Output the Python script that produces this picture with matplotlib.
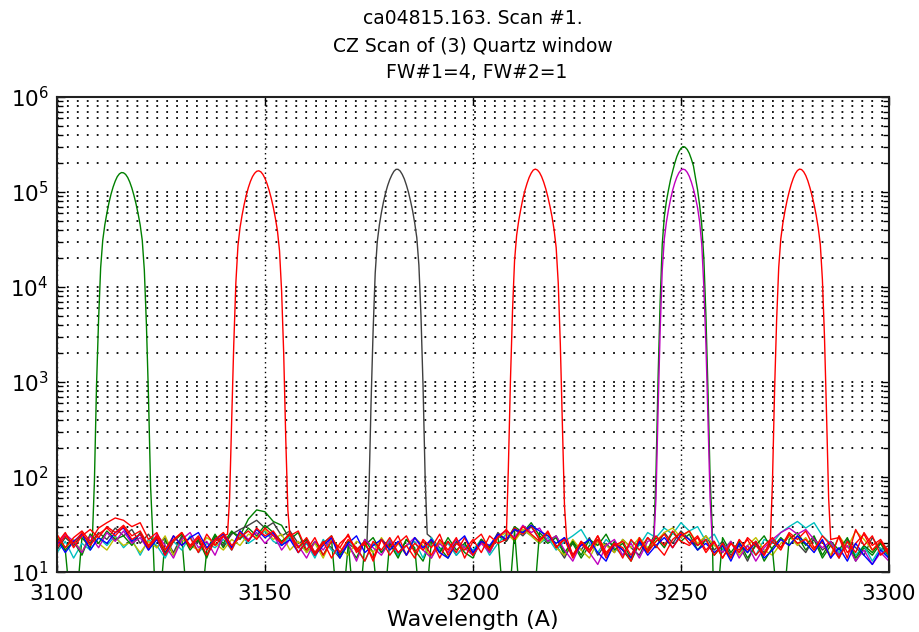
import numpy as np
import matplotlib
matplotlib.use("Agg")
import matplotlib.pyplot as plt

# colores estilo MATLAB antiguo
C_B = (0, 0, 1)
C_G = (0, 0.5, 0)
C_R = (1, 0, 0)
C_C = (0, 0.75, 0.75)
C_M = (0.75, 0, 0.75)
C_Y = (0.75, 0.75, 0)
C_K = (0.25, 0.25, 0.25)

# ---------------- ruido de fondo (x = 3100..3300 cada 2 A) ----------------
ruido_x = np.arange(3100, 3301, 2)

ruido_verde1 = [24, 17, 2, 23, 18, 24, 26, 28, 27, 25,
                24, 26, 2, 22, 15, 23, 2, 2, 17, 25,
                18, 26, 24, 36, 45, 43, 34, 31, 22, 26,
                16, 21, 15, 22, 2, 19, 14, 22, 16, 2,
                21, 15, 22, 17, 13, 22, 18, 14, 21, 16,
                14, 22, 16, 24, 21, 30, 26, 33, 24, 20,
                23, 15, 20, 14, 19, 22, 15, 21, 17, 13,
                20, 16, 23, 18, 26, 21, 25, 17, 22, 15,
                19, 14, 20, 16, 21, 13, 18, 23, 19, 24,
                17, 22, 14, 19, 15, 21, 13, 18, 15, 20,
                14]
ruido_rojo1 = [25, 18, 23, 27, 21, 29, 33, 37, 35, 30,
               33, 22, 26, 17, 24, 19, 23, 16, 25, 19,
               24, 20, 26, 22, 28, 25, 27, 24, 21, 27,
               17, 23, 15, 21, 18, 25, 16, 20, 14, 22,
               18, 24, 15, 20, 17, 22, 14, 21, 16, 23,
               15, 21, 17, 25, 22, 29, 25, 31, 22, 26,
               18, 23, 15, 20, 16, 22, 14, 19, 21, 15,
               22, 17, 24, 19, 27, 21, 19, 23, 16, 21,
               14, 20, 17, 22, 15, 19, 23, 18, 26, 22,
               27, 18, 21, 14, 24, 16, 20, 25, 17, 21,
               15]
ruido_gris = [17, 23, 19, 25, 20, 26, 22, 29, 24, 28,
              20, 25, 18, 23, 16, 24, 19, 21, 15, 23,
              19, 25, 28, 31, 35, 29, 33, 24, 27, 20,
              22, 15, 21, 18, 14, 20, 17, 21, 16, 19,
              20, 21, 19, 18, 20, 23, 16, 21, 15, 19,
              16, 22, 18, 26, 21, 28, 24, 30, 22, 25,
              19, 14, 21, 17, 23, 15, 20, 16, 22, 18,
              15, 23, 18, 26, 20, 27, 22, 19, 24, 17,
              21, 15, 19, 13, 20, 16, 22, 18, 24, 20,
              16, 23, 17, 20, 14, 22, 18, 15, 23, 17,
              19]
ruido_rojo2 = [20, 26, 18, 24, 28, 23, 30, 26, 31, 24,
               27, 19, 24, 17, 22, 26, 18, 23, 15, 21,
               24, 17, 26, 21, 29, 24, 27, 20, 25, 16,
               21, 15, 20, 24, 16, 22, 18, 13, 21, 17,
               23, 16, 19, 14, 22, 18, 25, 15, 20, 17,
               22, 16, 24, 20, 26, 28, 30, 28, 25, 24,
               22, 21, 15, 21, 17, 24, 16, 20, 14, 22,
               17, 23, 19, 15, 22, 26, 20, 24, 17, 21,
               14, 20, 16, 23, 19, 15, 21, 17, 25, 20,
               22, 17, 24, 19, 14, 21, 16, 26, 19, 22,
               16]
ruido_verde2 = [23, 17, 21, 15, 25, 20, 27, 22, 24, 19,
                26, 18, 23, 16, 21, 25, 17, 22, 14, 24,
                20, 27, 22, 29, 24, 31, 26, 21, 25, 18,
                22, 16, 20, 24, 15, 21, 2, 19, 23, 16,
                20, 14, 22, 18, 2, 21, 16, 23, 17, 20,
                15, 22, 18, 24, 2, 27, 2, 2, 26, 21,
                24, 16, 21, 15, 22, 19, 25, 17, 20, 14,
                21, 17, 24, 26, 28, 27, 25, 22, 20, 2,
                23, 16, 21, 14, 19, 24, 17, 2, 22, 26,
                19, 24, 15, 21, 17, 23, 14, 19, 16, 21,
                15]
ruido_magenta = [19, 25, 21, 16, 24, 18, 26, 21, 27, 20,
                 23, 17, 25, 19, 14, 22, 26, 18, 21, 15,
                 24, 18, 27, 22, 26, 20, 25, 17, 22, 19,
                 14, 21, 17, 23, 16, 20, 13, 22, 18, 15,
                 21, 16, 19, 23, 17, 14, 20, 16, 22, 18,
                 15, 20, 16, 24, 27, 23, 31, 26, 29, 21,
                 24, 17, 13, 20, 16, 12, 19, 22, 15, 20,
                 14, 21, 17, 23, 19, 25, 21, 24, 15, 20,
                 16, 21, 14, 19, 13, 18, 22, 26, 29, 25,
                 28, 22, 18, 21, 15, 19, 13, 17, 12, 16,
                 13]
ruido_rojo3 = [18, 24, 20, 26, 19, 25, 29, 24, 30, 22,
               25, 18, 23, 15, 21, 26, 19, 24, 17, 22,
               26, 19, 23, 27, 22, 29, 24, 20, 26, 18,
               23, 16, 21, 14, 20, 24, 17, 21, 13, 22,
               15, 20, 24, 16, 21, 15, 22, 17, 23, 14,
               21, 25, 17, 23, 28, 22, 30, 25, 21, 27,
               18, 22, 14, 21, 17, 24, 15, 20, 18, 13,
               23, 16, 21, 25, 18, 24, 27, 19, 22, 15,
               20, 14, 22, 17, 21, 15, 19, 23, 22, 23,
               22, 21, 20, 17, 23, 14, 28, 19, 24, 15,
               18]
ruido_azul = [22, 16, 21, 25, 17, 23, 20, 26, 29, 21,
              25, 17, 22, 15, 24, 19, 23, 26, 18, 22,
              25, 18, 27, 21, 28, 23, 26, 19, 22, 16,
              21, 15, 19, 23, 14, 20, 24, 16, 19, 22,
              17, 21, 15, 23, 18, 22, 16, 14, 20, 24,
              16, 21, 19, 25, 22, 28, 26, 31, 27, 24,
              20, 23, 15, 19, 22, 16, 13, 20, 17, 14,
              21, 15, 19, 23, 18, 25, 22, 17, 20, 16,
              19, 13, 20, 16, 21, 14, 17, 22, 19, 24,
              20, 16, 22, 14, 18, 13, 20, 15, 12, 17,
              14]
ruido_cian = [16, 21, 14, 20, 17, 23, 19, 24, 18, 22,
              15, 22, 19, 14, 21, 17, 24, 16, 20, 18,
              22, 17, 25, 20, 23, 27, 21, 19, 24, 16,
              20, 14, 22, 17, 15, 21, 18, 13, 20, 16,
              22, 15, 19, 21, 14, 23, 17, 20, 15, 19,
              17, 22, 15, 20, 25, 22, 28, 24, 20, 23,
              17, 21, 24, 28, 20, 16, 22, 18, 15, 21,
              19, 26, 23, 29, 25, 33, 27, 30, 21, 25,
              17, 21, 16, 19, 15, 22, 20, 26, 30, 34,
              29, 33, 24, 20, 16, 21, 15, 19, 13, 18,
              14]
ruido_amarillo = [24, 18, 22, 16, 25, 20, 17, 23, 19, 21,
                  16, 21, 18, 24, 15, 22, 19, 17, 23, 20,
                  17, 22, 19, 25, 23, 28, 22, 25, 17, 21,
                  16, 20, 14, 22, 18, 15, 21, 19, 16, 23,
                  17, 20, 15, 23, 19, 14, 21, 16, 22, 18,
                  15, 21, 17, 23, 26, 21, 28, 24, 20, 25,
                  18, 15, 22, 17, 14, 21, 19, 16, 22, 18,
                  23, 18, 21, 26, 29, 23, 27, 20, 24, 19,
                  16, 21, 15, 19, 23, 17, 15, 20, 24, 19,
                  23, 17, 21, 15, 24, 18, 27, 22, 17, 21,
                  16]

# ---------------- picos de los filtros (muestras cada 0.5 A) ----------------
pico1_x0 = 3108.5
pico1_y = [22, 90, 900, 4500, 16000, 31000, 45000, 60000, 77000, 95000,
           113000, 130000, 145000, 155000, 160000, 159000, 153000, 142000, 127000, 110000,
           92000, 75000, 59000, 45000, 31000, 15000, 4000, 700, 80, 26]
pico2_x0 = 3141.0
pico2_y = [25, 60, 400, 2500, 11000, 27000, 42000, 57000, 74000, 92000,
           111000, 129000, 145000, 157000, 165000, 167000, 163000, 153000, 139000, 122000,
           104000, 86000, 69000, 53000, 39000, 24000, 9000, 2000, 250, 45, 24]
pico3_x0 = 3174.5
pico3_y = [20, 70, 600, 3500, 14000, 30000, 45000, 61000, 79000, 98000,
           117000, 135000, 151000, 165000, 173000, 173000, 166000, 153000, 137000, 118000,
           99000, 80000, 63000, 47000, 33000, 17000, 5000, 900, 100, 25]
pico4_x0 = 3208.0
pico4_y = [22, 120, 1000, 5500, 19000, 35000, 50000, 66000, 85000, 104000,
           123000, 142000, 158000, 170000, 174000, 170000, 160000, 145000, 127000, 108000,
           89000, 71000, 55000, 40000, 26000, 11000, 2500, 350, 50, 23]
pico5_x0 = 3243.5
pico5_y = [24, 110, 1100, 7000, 28000, 55000, 80000, 105000, 135000, 165000,
           200000, 235000, 265000, 288000, 300000, 296000, 280000, 255000, 222000, 188000,
           140000, 105000, 72000, 45000, 20000, 5000, 800, 100, 30]
pico6_x0 = 3243.5
pico6_y = [22, 60, 500, 3500, 15000, 32000, 48000, 65000, 84000, 104000,
           124000, 143000, 159000, 170000, 174000, 171000, 161000, 146000, 127000, 107000,
           87000, 68000, 48000, 28000, 10000, 2500, 400, 60, 22]
pico7_x0 = 3271.5
pico7_y = [22, 90, 800, 4500, 16000, 32000, 47000, 63000, 81000, 100000,
           120000, 139000, 156000, 168000, 174000, 172000, 163000, 149000, 131000, 111000,
           92000, 74000, 57000, 42000, 28000, 12000, 3000, 450, 60, 22]


def unir(ruido, x0=None, pico=None):
    x = ruido_x.astype(float)
    y = np.array(ruido, dtype=float)
    if pico is None:
        return x, y
    px = x0 + 0.5 * np.arange(len(pico))
    fuera = (x < px[0]) | (x > px[-1])
    xx = np.concatenate([x[fuera], px])
    yy = np.concatenate([y[fuera], pico])
    orden = np.argsort(xx)
    return xx[orden], yy[orden]


lineas = [
    (ruido_verde1, pico1_x0, pico1_y, C_G),
    (ruido_gris, pico3_x0, pico3_y, C_K),
    (ruido_cian, None, None, C_C),
    (ruido_amarillo, None, None, C_Y),
    (ruido_verde2, pico5_x0, pico5_y, C_G),
    (ruido_magenta, pico6_x0, pico6_y, C_M),
    (ruido_rojo1, pico2_x0, pico2_y, C_R),
    (ruido_azul, None, None, C_B),
    (ruido_rojo2, pico4_x0, pico4_y, C_R),
    (ruido_rojo3, pico7_x0, pico7_y, C_R),
]

plt.rcParams["font.family"] = "DejaVu Sans"

fig = plt.figure(figsize=(9.19, 6.32), dpi=100)
ax = fig.add_axes([0.062, 0.095, 0.9053, 0.7516])

for ruido, x0, pico, color in lineas:
    x, y = unir(ruido, x0, pico)
    ax.plot(x, y, color=color, lw=1.0)

ax.set_yscale("log")
ax.set_xlim(3100, 3300)
ax.set_ylim(10, 1e6)
ax.set_xticks([3100, 3150, 3200, 3250, 3300])
ax.set_xticklabels(["3100", "3150", "3200", "3250", "3300"], fontsize=15.5)
ax.set_yticks([1e1, 1e2, 1e3, 1e4, 1e5, 1e6])
ax.set_yticklabels([r"$\mathregular{10^{%d}}$" % k for k in range(1, 7)], fontsize=15.5)

ax.tick_params(which="both", direction="in", top=True, right=True, color="black")
ax.tick_params(which="major", length=6, width=1)
ax.tick_params(which="minor", length=4, width=1)
ax.tick_params(axis="x", pad=9)
ax.tick_params(axis="y", pad=6)
ax.tick_params(axis="y", which="minor", labelleft=False)
for s in ax.spines.values():
    s.set_linewidth(1.5)
    s.set_color("#202020")

ax.grid(True, axis="x", which="major", color="black", linestyle=(0, (1, 2.5)), lw=1.0)
ax.grid(True, axis="y", which="both", color="black", linestyle=(0, (1, 4.5)), lw=1.3)

# titulo en tres lineas
tx = 0.062 + 0.9053 / 2
fig.text(tx, 1 - 18 / 632, "ca04815.163. Scan #1.", ha="center", va="center", fontsize=13.5)
fig.text(tx, 1 - 46 / 632, "CZ Scan of (3) Quartz window", ha="center", va="center", fontsize=13.5)
fig.text(tx + 0.004, 1 - 72 / 632, "FW#1=4, FW#2=1", ha="center", va="center", fontsize=13.5)

ax.set_xlabel("Wavelength (A)", fontsize=16, labelpad=4)

fig.savefig("out.png", dpi=100)
